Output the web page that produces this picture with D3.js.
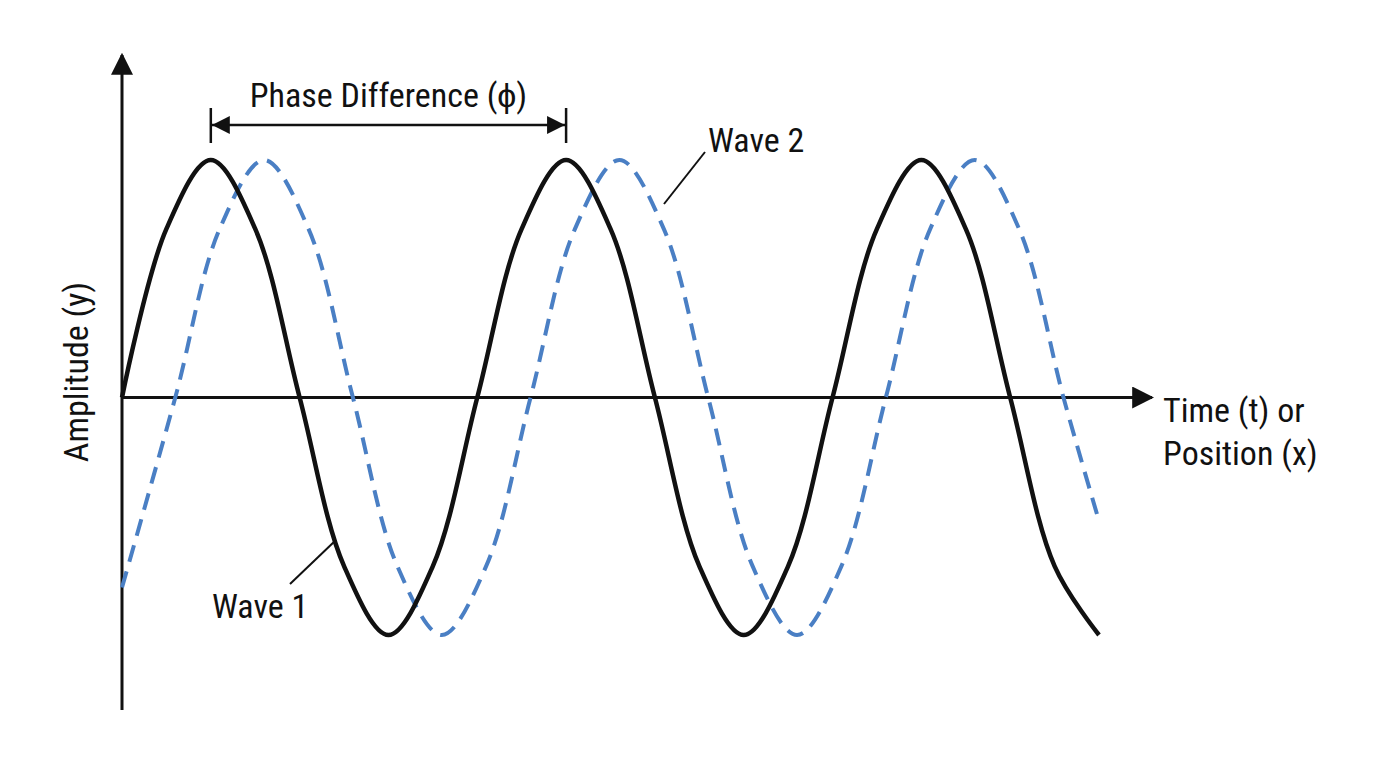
<!DOCTYPE html>
<html><head><meta charset="utf-8">
<script src="https://cdn.jsdelivr.net/npm/d3@7"></script>
<style>body{margin:0;background:#fff}text{font-family:"Liberation Sans Narrow","Roboto Condensed","Liberation Sans",sans-serif;fill:#111}</style>
</head><body><svg id="c" width="1376" height="768"></svg>
<script>
// Values (time in eighths of a period, amplitude normalized)
const wave1T = d3.range(0, 23);
const wave1Y = [0,.71,1,.71,0,-.71,-1,-.71, 0,.71,1,.71,0,-.71,-1,-.71, 0,.71,1,.71,0,-.71,-1];
const wave2T = [0,1.2,2.2,3.2,4.2,5.2,6.2,7.2,8.2,9.2,10.2,11.2,12.2,13.2,14.2,15.2,16.2,17.2,18.2,19.2,20.2,21.2,22];
const wave2Y = [-.8,0,.71,1,.71,0,-.71,-1,-.71,0,.71,1,.71,0,-.71,-1,-.71,0,.71,1,.71,0,-.52];
const labels = {x:["Time (t) or","Position (x)"], y:"Amplitude (y)", phase:"Phase Difference (\u03D5)", w1:"Wave 1", w2:"Wave 2"};

const svg = d3.select("#c");
const x = d3.scaleLinear().domain([0,22]).range([122,1099]);
const y = d3.scaleLinear().domain([-1,1]).range([635,160]);

const defs = svg.append("defs");
defs.append("marker").attr("id","ah").attr("viewBox","0 0 10 10").attr("refX",9).attr("refY",5)
  .attr("markerWidth",8).attr("markerHeight",8).attr("markerUnits","userSpaceOnUse").attr("orient","auto")
  .append("path").attr("d","M0,0L10,5L0,10z").attr("fill","#111");
defs.select("marker").attr("markerWidth",22).attr("markerHeight",22);

// axes
svg.append("line").attr("x1",x(0)).attr("x2",x(0)).attr("y1",710).attr("y2",55)
  .attr("stroke","#111").attr("stroke-width",3).attr("marker-end","url(#ah)");
svg.append("line").attr("x1",x(0)).attr("x2",1152).attr("y1",y(0)).attr("y2",y(0))
  .attr("stroke","#111").attr("stroke-width",3).attr("marker-end","url(#ah)");

const line = d3.line().x(d=>x(d[0])).y(d=>y(d[1])).curve(d3.curveCatmullRom.alpha(0.5));
svg.append("path").attr("d",line(wave2T.map((t,i)=>[t,wave2Y[i]])))
  .attr("fill","none").attr("stroke","#4a7fc4").attr("stroke-width",4).attr("stroke-dasharray","17 10");
svg.append("path").attr("d",line(wave1T.map((t,i)=>[t,wave1Y[i]])))
  .attr("fill","none").attr("stroke","#111").attr("stroke-width",4.5);

// phase difference
const p1 = x(2), p2 = x(10);
svg.append("line").attr("x1",p1).attr("x2",p1).attr("y1",108).attr("y2",143).attr("stroke","#111").attr("stroke-width",2.5);
svg.append("line").attr("x1",p2).attr("x2",p2).attr("y1",108).attr("y2",143).attr("stroke","#111").attr("stroke-width",2.5);
defs.append("marker").attr("id","ah2").attr("viewBox","0 0 10 10").attr("refX",10).attr("refY",5)
  .attr("markerWidth",18).attr("markerHeight",18).attr("markerUnits","userSpaceOnUse").attr("orient","auto-start-reverse")
  .append("path").attr("d","M0,0L10,5L0,10z").attr("fill","#111");
svg.append("line").attr("x1",p1+1).attr("x2",p2-1).attr("y1",125).attr("y2",125).attr("stroke","#111").attr("stroke-width",2.5)
  .attr("marker-start","url(#ah2)").attr("marker-end","url(#ah2)");
svg.append("text").attr("x",(p1+p2)/2).attr("y",107).attr("text-anchor","middle").attr("font-size",34).text(labels.phase);

// leaders + labels
svg.append("line").attr("x1",705).attr("y1",152).attr("x2",664).attr("y2",204).attr("stroke","#111").attr("stroke-width",2);
svg.append("text").attr("x",708).attr("y",152).attr("font-size",34).text(labels.w2);
svg.append("line").attr("x1",290).attr("y1",584).attr("x2",336).attr("y2",540).attr("stroke","#111").attr("stroke-width",2);
svg.append("text").attr("x",212).attr("y",618).attr("font-size",34).text(labels.w1);

svg.append("text").attr("x",1163).attr("y",422).attr("font-size",34).text(labels.x[0]);
svg.append("text").attr("x",1163).attr("y",465).attr("font-size",34).text(labels.x[1]);
svg.append("text").attr("transform","translate(88,372) rotate(-90)").attr("text-anchor","middle").attr("font-size",34).text(labels.y);
</script></body></html>
